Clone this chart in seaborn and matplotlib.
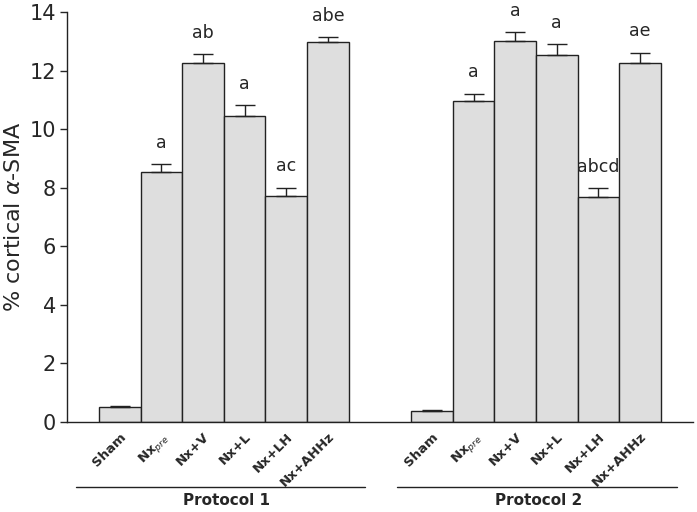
import matplotlib
matplotlib.use('Agg')
import matplotlib.pyplot as plt
import seaborn as sns
import pandas as pd
import numpy as np

# Data
groups = ['Sham', 'Nx$_{pre}$', 'Nx+V', 'Nx+L', 'Nx+LH', 'Nx+AHHz']
protocols = ['Protocol 1', 'Protocol 2']
p1_means = [0.51, 8.55, 12.25, 10.47, 7.73, 12.98]
p1_sem = [0.03, 0.26, 0.33, 0.35, 0.28, 0.17]
p2_means = [0.38, 10.97, 13.01, 12.53, 7.70, 12.25]
p2_sem = [0.01, 0.25, 0.31, 0.38, 0.29, 0.37]
p1_letters = ['', 'a', 'ab', 'a', 'ac', 'abe']
p2_letters = ['', 'a', 'a', 'a', 'abcd', 'ae']

gap = 7.5  # offset of protocol 2 bars (in bar widths)
n = len(groups)
pos = np.concatenate([np.arange(n), np.arange(n) + gap])

df = pd.DataFrame({
    'pos': pos,
    'mean': p1_means + p2_means,
    'sem': p1_sem + p2_sem,
    'letter': p1_letters + p2_letters,
    'label': groups + groups,
})

sns.set_style('ticks')
plt.rcParams['font.family'] = ['DejaVu Sans']

fig = plt.figure(figsize=(6.97, 5.12), dpi=100)
ax = fig.add_axes([0.096, 0.176, 0.898, 0.80])

sns.barplot(data=df, x='pos', y='mean', native_scale=True, width=1.0,
            color='#dedede', saturation=1, edgecolor='#222222',
            linewidth=1.0, errorbar=None, ax=ax)

# One-sided error bars
ax.errorbar(df['pos'], df['mean'], yerr=[np.zeros(len(df)), df['sem']],
            fmt='none', ecolor='#222222', elinewidth=1.0, capsize=7,
            capthick=1.0)

# Significance letters
for _, r in df.iterrows():
    if r['letter']:
        ax.text(r['pos'], r['mean'] + r['sem'] + 0.42, r['letter'],
                ha='center', va='bottom', fontsize=12.5)

ax.set_xlim(-1.27, n - 1 + gap + 1.27)
ax.set_ylim(0, 14)
ax.set_yticks(range(0, 15, 2))
ax.tick_params(axis='y', labelsize=15, length=5, width=1, direction='out',
               pad=3)
ax.set_ylabel('% cortical $\\alpha$-SMA', fontsize=16, labelpad=4)

ax.set_xticks(df['pos'])
ax.set_xticklabels(df['label'], rotation=45, ha='right',
                   rotation_mode='anchor', fontsize=9.5, fontweight='bold')
ax.tick_params(axis='x', length=0, pad=6)
ax.set_xlabel('')

sns.despine(ax=ax)
for s in ['left', 'bottom']:
    ax.spines[s].set_linewidth(1.0)
    ax.spines[s].set_color('#222222')

# Protocol group lines and labels
trans = ax.get_xaxis_transform()
for i, name in enumerate(protocols):
    x0 = -0.5 - 0.25 + i * gap
    x1 = n - 0.5 + 0.4 + i * gap
    ax.plot([x0 - 0.3 if i == 0 else x0 - 0.1, x1], [-0.159, -0.159],
            transform=trans, color='#222222', lw=1.0, clip_on=False)
    ax.text((x0 + x1) / 2, -0.193, name, transform=trans, ha='center',
            va='center', fontsize=11, fontweight='bold')

plt.savefig('out.png', dpi=100)
